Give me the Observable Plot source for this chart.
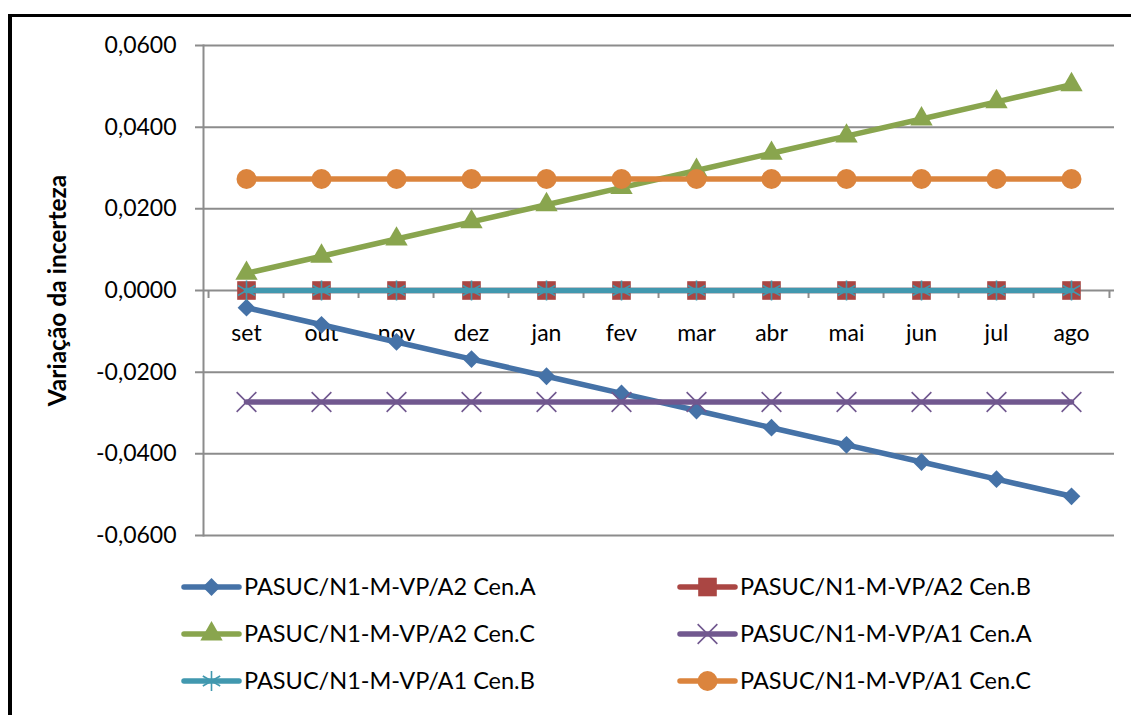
<!DOCTYPE html>
<html><head><meta charset="utf-8">
<script src="https://cdn.jsdelivr.net/npm/d3@7"></script>
<script src="https://cdn.jsdelivr.net/npm/@observablehq/plot@0.6"></script>
<style>
html,body{margin:0;padding:0;background:#fff;}
#wrap{position:relative;width:1131px;height:715px;overflow:hidden;font-family:Lato,sans-serif;background:#fff;}
#frame{position:absolute;left:8px;top:14px;width:1200px;height:800px;border-left:4px solid #000;border-top:3px solid #000;pointer-events:none;box-sizing:border-box;}
#wrap svg{display:block;}
g[aria-label="y-axis label"]{font-size:24.5px;}
g[aria-label="y-axis label"] text{font-weight:bold;}
</style></head><body><div id="wrap"><div id="frame"></div></div>
<script>
// ---- data ----
const months = ["set","out","nov","dez","jan","fev","mar","abr","mai","jun","jul","ago"];
const seriesNames = [
  "PASUC/N1-M-VP/A2 Cen.A",
  "PASUC/N1-M-VP/A2 Cen.B",
  "PASUC/N1-M-VP/A2 Cen.C",
  "PASUC/N1-M-VP/A1 Cen.A",
  "PASUC/N1-M-VP/A1 Cen.B",
  "PASUC/N1-M-VP/A1 Cen.C"
];
const a2CenA = [-0.0042,-0.0084,-0.0126,-0.0168,-0.0210,-0.0252,-0.0294,-0.0336,-0.0378,-0.0420,-0.0462,-0.0504];
const a2CenB = [0,0,0,0,0,0,0,0,0,0,0,0];
const a2CenC = [0.0042,0.0084,0.0126,0.0168,0.0210,0.0252,0.0294,0.0336,0.0378,0.0420,0.0462,0.0504];
const a1CenA = [-0.0273,-0.0273,-0.0273,-0.0273,-0.0273,-0.0273,-0.0273,-0.0273,-0.0273,-0.0273,-0.0273,-0.0273];
const a1CenB = [0,0,0,0,0,0,0,0,0,0,0,0];
const a1CenC = [0.0273,0.0273,0.0273,0.0273,0.0273,0.0273,0.0273,0.0273,0.0273,0.0273,0.0273,0.0273];
const yTicks = [-0.06,-0.04,-0.02,0,0.02,0.04,0.06];
const yTitle = "Variação da incerteza";

// ---- styles ----
const seriesValues = [a2CenA,a2CenB,a2CenC,a1CenA,a1CenB,a1CenC];
const seriesColors = ["#4572A7","#AA4643","#89A54E","#71588F","#4198AF","#DB843D"];
const seriesSymbols = ["diamond2","square","triangle","times","asterisk","circle"];
const seriesR = [8,10.5,8.3,9,9.5,10];
const strokeSymbols = new Set(["times","asterisk"]);
const d3Symbols = {diamond2:d3.symbolDiamond2,square:d3.symbolSquare,triangle:d3.symbolTriangle,times:d3.symbolTimes,asterisk:d3.symbolAsterisk,circle:d3.symbolCircle};

const W = 1131, H = 560;
const mL = 203, mR = 17, mT = 45, mB = 25;
const step = (W - mL - mR) / months.length;
const gray = "#8c8c8c";
const fmt = d => d.toFixed(4).replace(".", ",");

const marks = [
  Plot.ruleY(yTicks, {stroke: gray, strokeWidth: 2, insetLeft: -8}),
  Plot.frame({anchor: "left", stroke: gray, strokeWidth: 2}),
  Plot.ruleX(months, {x: d => d, y1: 0, y2: 0, insetBottom: -8, dx: -step/2, stroke: gray, strokeWidth: 2}),
  Plot.ruleX(months.slice(-1), {x: d => d, y1: 0, y2: 0, insetBottom: -8, dx: step/2, stroke: gray, strokeWidth: 2}),
  Plot.axisY(yTicks, {tickSize: 0, tickPadding: 27, tickFormat: fmt, fontSize: 23, label: yTitle, labelAnchor: "center", labelArrow: "none", labelOffset: 155}),
  Plot.text(months, {x: d => d, y: 0, dy: 43, fontSize: 23, fill: "#000"})
];

seriesValues.forEach((vals, i) => {
  const rows = months.map((m, j) => ({month: m, value: vals[j]}));
  marks.push(Plot.line(rows, {x: "month", y: "value", stroke: seriesColors[i], strokeWidth: 5.5}));
  const sym = seriesSymbols[i];
  if (strokeSymbols.has(sym)) {
    marks.push(Plot.dot(rows, {x: "month", y: "value", symbol: sym, r: seriesR[i], stroke: seriesColors[i], strokeWidth: 1.6}));
  } else {
    marks.push(Plot.dot(rows, {x: "month", y: "value", symbol: sym, r: seriesR[i], fill: seriesColors[i], stroke: "none"}));
  }
});

const chart = Plot.plot({
  width: W, height: H,
  marginLeft: mL, marginRight: mR, marginTop: mT, marginBottom: mB,
  style: {fontFamily: "Lato, sans-serif", fontSize: "23px", background: "transparent", color: "#000"},
  x: {type: "point", domain: months, padding: 0.5, axis: null},
  y: {domain: [-0.06, 0.06], axis: null},
  marks
});
document.getElementById("wrap").appendChild(chart);

// ---- legend ----
const leg = d3.create("svg").attr("width", W).attr("height", 715 - H)
  .style("font-family", "Lato, sans-serif").style("font-size", "23.5px");
const colX = [184, 680], rowY = [27, 74, 121], lineLen = 55, textGap = 5;
seriesNames.forEach((name, i) => {
  const c = i % 2, r = Math.floor(i / 2);
  const x0 = colX[c], y0 = rowY[r];
  const g = leg.append("g");
  g.append("line").attr("x1", x0).attr("x2", x0 + lineLen).attr("y1", y0).attr("y2", y0)
    .attr("stroke", seriesColors[i]).attr("stroke-width", 5.5).attr("stroke-linecap", "round");
  const sym = seriesSymbols[i];
  const p = d3.symbol(d3Symbols[sym], Math.PI * seriesR[i] * seriesR[i])();
  const path = g.append("path").attr("d", p).attr("transform", `translate(${x0 + lineLen/2},${y0})`);
  if (strokeSymbols.has(sym)) path.attr("fill", "none").attr("stroke", seriesColors[i]).attr("stroke-width", 1.6);
  else path.attr("fill", seriesColors[i]);
  g.append("text").attr("x", x0 + lineLen + textGap).attr("y", y0).attr("dy", "0.35em").attr("fill", "#000").text(name);
});
document.getElementById("wrap").appendChild(leg.node());
</script>
</body></html>
